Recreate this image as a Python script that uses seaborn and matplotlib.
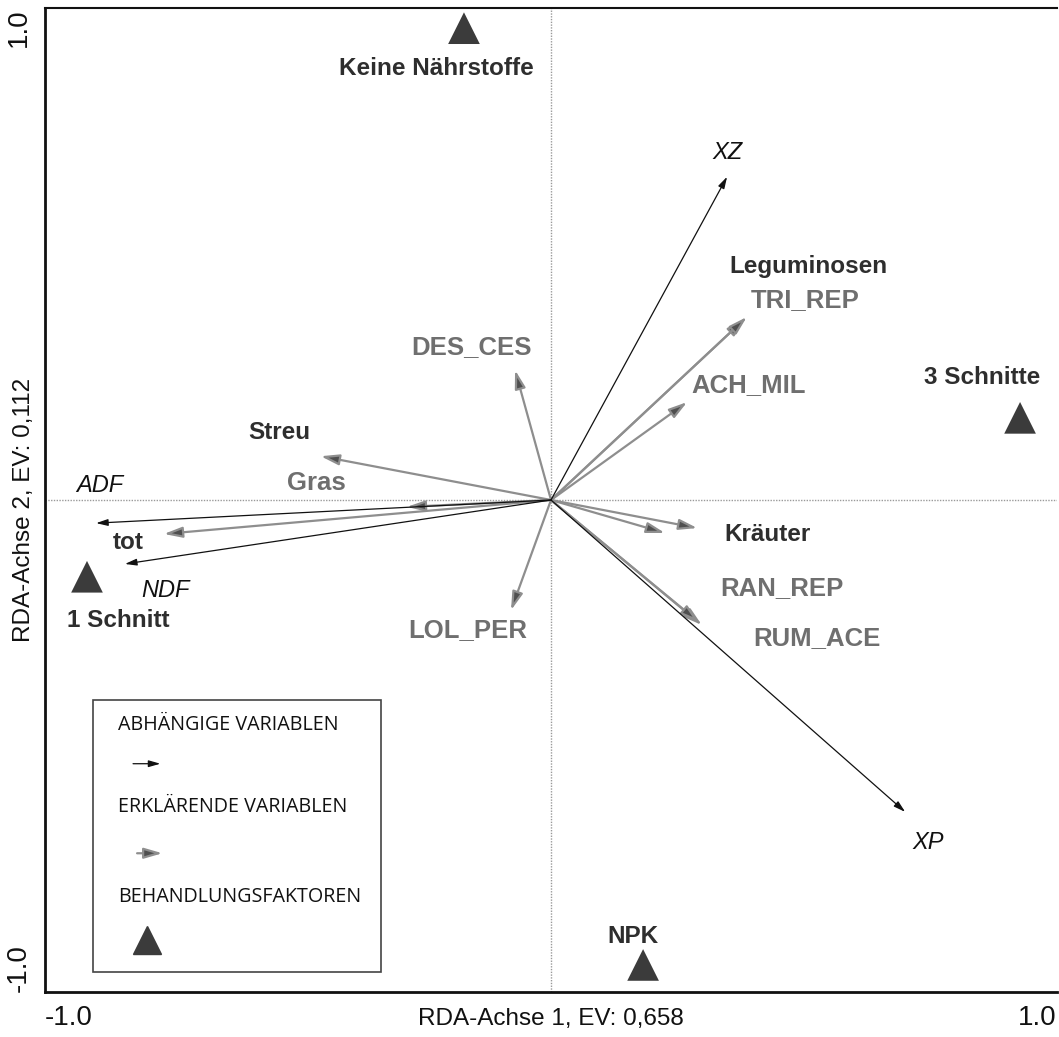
import numpy as np
import pandas as pd
import seaborn as sns
import matplotlib.pyplot as plt
from matplotlib.patches import Rectangle

# treatment factors (triangles)
treat_names = ['Keine Nährstoffe', '3 Schnitte', '1 Schnitt', 'NPK']
treat_x = [-0.172, 0.927, -0.917, 0.182]
treat_y = [0.959, 0.167, -0.156, -0.945]

# dependent variables (thin black arrows)
dep_names = ['XZ', 'XP', 'ADF', 'NDF']
dep_x = [0.348, 0.700, -0.899, -0.842]
dep_y = [0.657, -0.634, -0.047, -0.130]

# explanatory variables (grey arrows)
expl_names = ['Streu', 'Gras', 'tot', 'DES_CES', 'LOL_PER', 'Leguminosen',
              'TRI_REP', 'ACH_MIL', 'Kräuter', '', 'RAN_REP', 'RUM_ACE']
expl_x = [-0.455, -0.285, -0.765, -0.071, -0.079, 0.383,
          0.387, 0.269, 0.289, 0.225, 0.298, 0.292]
expl_y = [0.089, -0.014, -0.069, 0.264, -0.224, 0.368,
          0.372, 0.199, -0.057, -0.067, -0.254, -0.248]
expl_group = [True, False, True, False, False, True,
              False, False, True, False, False, False]

# label placement (data units)
treat_lab = [(-0.227, 0.878), (0.852, 0.248), (-0.856, -0.244), (0.162, -0.888)]
dep_lab = [(0.348, 0.707), (0.745, -0.697), (-0.891, 0.030), (-0.761, -0.183)]
expl_lab = [(-0.536, 0.138), (-0.464, 0.035), (-0.836, -0.087), (-0.158, 0.311),
            (-0.164, -0.264), (0.508, 0.474), (0.502, 0.407), (0.391, 0.234),
            (0.427, -0.071), (0, 0), (0.457, -0.179), (0.526, -0.280)]

ticks = [-1.0, -0.5, 0.0, 0.5, 1.0]
tick_labels = ['-1.0', '', '', '', '1.0']

sns.set_style('white')
plt.rcParams['font.family'] = ['Liberation Sans', 'DejaVu Sans']

fig = plt.figure(figsize=(10.59, 10.37), dpi=100)
ax = fig.add_axes([45 / 1059, 45 / 1037, 1012 / 1059, 984 / 1037])

ax.axhline(0, color='#9a9a9a', lw=1, ls=(0, (1, 1)), zorder=1)
ax.axvline(0, color='#9a9a9a', lw=1, ls=(0, (1, 1)), zorder=1)

df_t = pd.DataFrame({'x': treat_x, 'y': treat_y, 'name': treat_names})
sns.scatterplot(data=df_t, x='x', y='y', marker='^', s=520, color='#3b3b3b',
                edgecolor='none', legend=False, ax=ax, zorder=5)

grey_arrow = dict(arrowstyle='-|>,head_length=1.1,head_width=0.32', ec='#8e8e8e',
                  fc='#4f4f4f', lw=1.6, shrinkA=0, shrinkB=0, mutation_scale=10)
black_arrow = dict(arrowstyle='-|>,head_length=0.7,head_width=0.2', ec='#111111',
                   fc='#111111', lw=0.9, shrinkA=0, shrinkB=0, mutation_scale=10)

for x, y in zip(expl_x, expl_y):
    ax.annotate('', xy=(x, y), xytext=(0, 0), arrowprops=grey_arrow, zorder=3)
for x, y in zip(dep_x, dep_y):
    ax.annotate('', xy=(x, y), xytext=(0, 0), arrowprops=black_arrow, zorder=4)

for name, (lx, ly) in zip(treat_names, treat_lab):
    ax.text(lx, ly, name, ha='center', va='center', fontsize=17.5,
            fontweight='bold', color='#2e2e2e')
for name, (lx, ly) in zip(dep_names, dep_lab):
    ax.text(lx, ly, name, ha='center', va='center', fontsize=17,
            style='italic', color='#111111')
for name, grp, (lx, ly) in zip(expl_names, expl_group, expl_lab):
    if not name:
        continue
    ax.text(lx, ly, name, ha='center', va='center',
            fontsize=17.5 if grp else 18.5,
            fontweight='bold', color='#2e2e2e' if grp else '#6f6f6f')

# legend box
ax.add_patch(Rectangle((0.047, 0.020), 0.285, 0.277, transform=ax.transAxes,
                       fill=True, fc='white', ec='#444444', lw=1.2, zorder=6))
leg_font = ['Open Sans', 'DejaVu Sans']
for txt, ty in [('ABHÄNGIGE VARIABLEN', 0.271), ('ERKLÄRENDE VARIABLEN', 0.188),
                ('BEHANDLUNGSFAKTOREN', 0.097)]:
    ax.text(0.072, ty, txt, transform=ax.transAxes, ha='left', va='center',
            fontsize=14.2, family=leg_font, color='#111111', zorder=7)
ax.annotate('', xy=(0.114, 0.232), xytext=(0.087, 0.232), xycoords='axes fraction',
            arrowprops=black_arrow, zorder=7)
ax.annotate('', xy=(0.116, 0.141), xytext=(0.091, 0.141), xycoords='axes fraction',
            arrowprops=grey_arrow, zorder=7)
ax.plot([0.101], [0.053], marker='^', ms=20, color='#3b3b3b', ls='none',
        transform=ax.transAxes, zorder=7)

ax.set_xlim(-1, 1)
ax.set_ylim(-1, 1)
ax.set_xticks(ticks, tick_labels)
ax.set_yticks(ticks, tick_labels, rotation=90)
ax.tick_params(direction='inout', length=12, width=1.5, labelsize=20, colors='#111111')
xtl = ax.get_xticklabels()
xtl[0].set_ha('left')
xtl[-1].set_ha('right')
ytl = ax.get_yticklabels()
ytl[0].set_va('bottom')
ytl[-1].set_va('top')

ax.set_xlabel('RDA-Achse 1, EV: 0,658', fontsize=17.5, color='#111111')
ax.set_ylabel('RDA-Achse 2, EV: 0,112', fontsize=17.5, color='#111111')
ax.xaxis.set_label_coords(0.5, -0.016)
ax.yaxis.set_label_coords(-0.010, 0.49)

for side in ['left', 'bottom']:
    ax.spines[side].set_color('#111111')
    ax.spines[side].set_linewidth(2)
ax.spines['top'].set_color('#111111')
ax.spines['top'].set_linewidth(1.5)
ax.spines['right'].set_visible(False)

plt.savefig('out.png', dpi=100)
